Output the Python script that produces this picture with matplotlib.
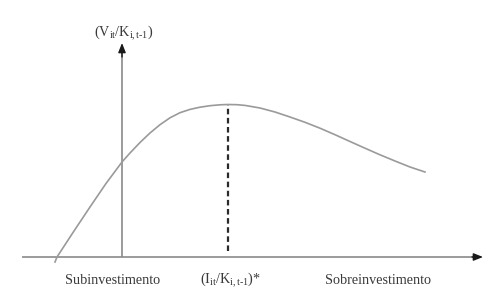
import matplotlib
matplotlib.use("Agg")
import matplotlib.pyplot as plt

plt.rcParams['font.family'] = ['Liberation Serif', 'DejaVu Serif']
plt.rcParams['mathtext.fontset'] = 'custom'
plt.rcParams['mathtext.rm'] = 'Liberation Serif'
plt.rcParams['mathtext.it'] = 'Liberation Serif:italic'

# Curve: firm value vs investment (conceptual inverted-U)
curve_x = [-67, -65, -48, -32, -16, 0, 8, 18, 28, 38, 48, 58, 68, 78, 88, 98, 106,
           115, 123, 138, 153, 168, 183, 198, 213, 228, 243, 258, 273, 288, 303]
curve_y = [-5, 0, 26, 50, 73.5, 95, 104, 114.5, 124, 132.3, 139.2, 144.3, 147.6,
           149.8, 151.3, 152.2, 152.5, 152.3, 151.6, 149, 145, 140, 134.7, 128.8,
           122.3, 115.5, 108.8, 102.2, 96, 90, 85]

optimum_x = 106
optimum_y = 152.5

x_labels = ['Subinvestimento', r'(I$_{\mathrm{it}}$/K$_{\mathrm{i,t\text{-}1}}$)*', 'Sobreinvestimento']
x_label_pos = [-9, 108, 256]
y_label = r'(V$_{\mathrm{it}}$/K$_{\mathrm{i,t\text{-}1}}$)'

fig = plt.figure(figsize=(5.0, 2.98), dpi=100)
ax = fig.add_axes([0, 0, 1, 1])
ax.set_xlim(-122, 378)
ax.set_ylim(-41, 257)
ax.axis('off')

axis_color = '#8a8a8a'
# horizontal axis
ax.plot([-100, 355], [0, 0], color=axis_color, lw=1.2, solid_capstyle='butt')
ax.annotate('', xy=(361, 0), xytext=(350, 0),
            arrowprops=dict(arrowstyle='-|>,head_length=0.4,head_width=0.16',
                            color='#1a1a1a', lw=1.0, mutation_scale=14, shrinkA=0, shrinkB=0))
# vertical axis
ax.plot([0, 0], [0, 208], color=axis_color, lw=1.2, solid_capstyle='butt')
ax.annotate('', xy=(0, 214), xytext=(0, 200),
            arrowprops=dict(arrowstyle='-|>,head_length=0.4,head_width=0.16',
                            color='#1a1a1a', lw=1.0, mutation_scale=14, shrinkA=0, shrinkB=0))

# curve
ax.plot(curve_x, curve_y, color='#9a9a9a', lw=1.2, solid_joinstyle='round')

# dashed optimum line
ax.plot([optimum_x, optimum_x], [6, optimum_y], color='#2a2a2a', lw=1.6,
        dashes=(2.5, 1.6))

txt_color = '#3a3a3a'
for lab, xp in zip(x_labels, x_label_pos):
    ax.text(xp, -23, lab, ha='center', va='center', fontsize=10.2, color=txt_color)
ax.text(2, 224, y_label, ha='center', va='center', fontsize=10.2, color=txt_color)

fig.savefig('out.png', dpi=100, facecolor='white')
